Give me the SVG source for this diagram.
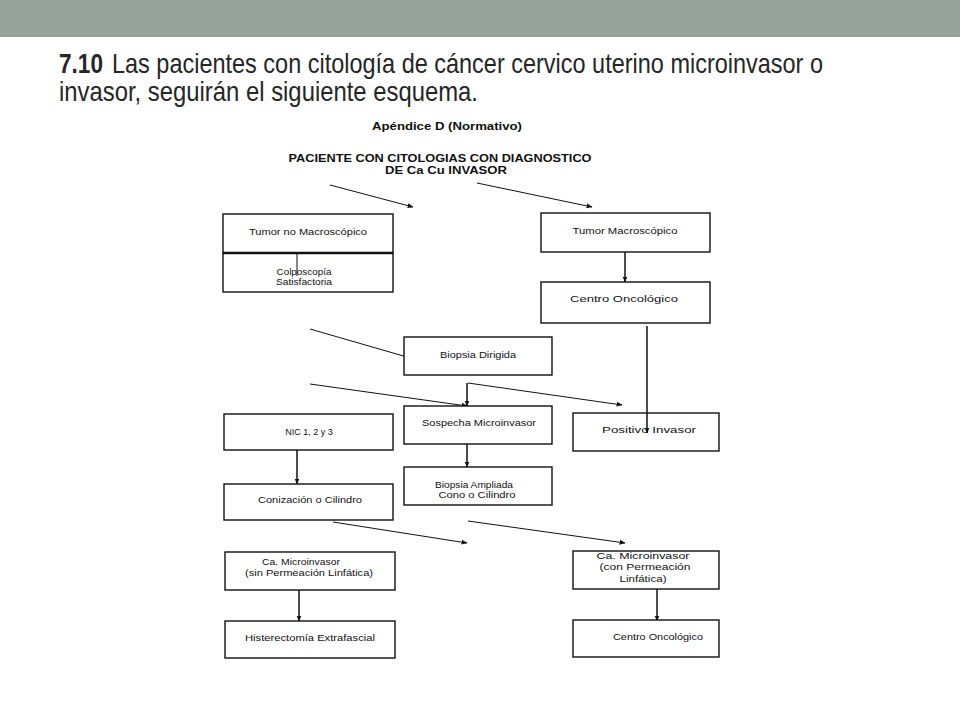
<svg xmlns="http://www.w3.org/2000/svg" width="960" height="720" viewBox="0 0 960 720">
<style>
.box{fill:#fff;stroke:#111;stroke-width:1.4}
.t{font-family:"Liberation Sans",Arial,sans-serif;font-size:9px;fill:#111;text-anchor:middle}
.h{font-family:"Liberation Sans",Arial,sans-serif;font-size:11px;font-weight:bold;fill:#111;text-anchor:middle}
.ti{font-family:"Liberation Sans",Arial,sans-serif;font-size:28px;fill:#262626}
.c{stroke:#111;stroke-width:1;fill:none}
.v{stroke:#111;stroke-width:1.5;fill:none}
</style>
<defs>
<marker id="ah" viewBox="0 0 10 10" refX="9" refY="5" markerWidth="6" markerHeight="6" markerUnits="userSpaceOnUse" orient="auto">
<path d="M0,1 L10,5 L0,9 z" fill="#111"/>
</marker>
</defs>
<rect width="960" height="720" fill="#fff"/>
<rect x="0" y="0" width="960" height="37" fill="#95A39A"/>
<g id="title">
<text class="ti" x="59" y="73" font-weight="bold" textLength="44" lengthAdjust="spacingAndGlyphs">7.10</text>
<text class="ti" x="112" y="73" textLength="711" lengthAdjust="spacingAndGlyphs">Las pacientes con citología de cáncer cervico uterino microinvasor o</text>
<text class="ti" x="59" y="101" textLength="419" lengthAdjust="spacingAndGlyphs">invasor, seguirán el siguiente esquema.</text>
</g>
<g id="heading">
<text class="h" x="447" y="130" textLength="150" lengthAdjust="spacingAndGlyphs">Apéndice D (Normativo)</text>
<text class="h" x="440" y="162" textLength="303" lengthAdjust="spacingAndGlyphs">PACIENTE CON CITOLOGIAS CON DIAGNOSTICO</text>
<text class="h" x="446" y="174" textLength="122" lengthAdjust="spacingAndGlyphs">DE Ca Cu INVASOR</text>
</g>
<g id="connectors">
<line class="c" x1="330" y1="185" x2="413" y2="207" marker-end="url(#ah)"/>
<line class="c" x1="477" y1="183" x2="592" y2="207" marker-end="url(#ah)"/>
<line class="v" x1="625" y1="252" x2="625" y2="282" marker-end="url(#ah)"/>
<line class="c" x1="310" y1="329" x2="445" y2="368" marker-end="url(#ah)"/>
<line class="c" x1="310" y1="384" x2="467" y2="406" marker-end="url(#ah)"/>
<line class="c" x1="468" y1="383" x2="622" y2="405" marker-end="url(#ah)"/>
<line class="v" x1="297" y1="450" x2="297" y2="484" marker-end="url(#ah)"/>
<line class="v" x1="467" y1="444" x2="467" y2="467" marker-end="url(#ah)"/>
<line class="c" x1="333" y1="522" x2="467" y2="543" marker-end="url(#ah)"/>
<line class="c" x1="468" y1="521" x2="625" y2="543" marker-end="url(#ah)"/>
<line class="v" x1="299" y1="590" x2="299" y2="621" marker-end="url(#ah)"/>
<line class="v" x1="657" y1="589" x2="657" y2="621" marker-end="url(#ah)"/>
</g>
<g id="tumor-no-macro">
<rect class="box" x="223" y="214" width="170" height="39"/>
<text class="t" x="308" y="235" textLength="118" lengthAdjust="spacingAndGlyphs">Tumor no Macroscópico</text>
</g>
<g id="colposcopia">
<rect class="box" x="223" y="253" width="170" height="39"/>
<line x1="223" y1="253" x2="393" y2="253" stroke="#111" stroke-width="2.4"/>
<text class="t" x="304" y="275" textLength="55" lengthAdjust="spacingAndGlyphs">Colposcopía</text>
<text class="t" x="304" y="285" textLength="56" lengthAdjust="spacingAndGlyphs">Satisfactoria</text>
</g>
<g id="tumor-macro">
<rect class="box" x="541" y="213" width="169" height="39"/>
<text class="t" x="625" y="234" textLength="105" lengthAdjust="spacingAndGlyphs">Tumor Macroscópico</text>
</g>
<g id="centro-oncologico-1">
<rect class="box" x="541" y="282" width="169" height="41"/>
<text class="t" x="624" y="302" textLength="108" lengthAdjust="spacingAndGlyphs">Centro Oncológico</text>
</g>
<g id="biopsia-dirigida">
<rect class="box" x="404" y="337" width="148" height="38"/>
<text class="t" x="478" y="358" textLength="76" lengthAdjust="spacingAndGlyphs">Biopsia Dirigida</text>
</g>
<g id="nic">
<rect class="box" x="224" y="414" width="169" height="36"/>
<text class="t" x="309" y="435">NIC 1, 2 y 3</text>
</g>
<g id="sospecha">
<rect class="box" x="404" y="406" width="148" height="38"/>
<text class="t" x="479" y="426" textLength="114" lengthAdjust="spacingAndGlyphs">Sospecha Microinvasor</text>
</g>
<g id="positivo">
<rect class="box" x="573" y="413" width="146" height="38"/>
<text class="t" x="649" y="433" textLength="94" lengthAdjust="spacingAndGlyphs">Positivo Invasor</text>
</g>
<g id="conizacion">
<rect class="box" x="224" y="484" width="169" height="36"/>
<text class="t" x="310" y="503" textLength="104" lengthAdjust="spacingAndGlyphs">Conización o Cilindro</text>
</g>
<g id="biopsia-ampliada">
<rect class="box" x="404" y="467" width="148" height="38"/>
<text class="t" x="474" y="488" textLength="78" lengthAdjust="spacingAndGlyphs">Biopsia Ampliada</text>
<text class="t" x="477" y="498" textLength="77" lengthAdjust="spacingAndGlyphs">Cono o Cilindro</text>
</g>
<g id="ca-sin">
<rect class="box" x="225" y="552" width="170" height="38"/>
<text class="t" x="301" y="565" textLength="78" lengthAdjust="spacingAndGlyphs">Ca. Microinvasor</text>
<text class="t" x="309" y="576" textLength="128" lengthAdjust="spacingAndGlyphs">(sin Permeación Linfática)</text>
</g>
<g id="histerectomia">
<rect class="box" x="225" y="621" width="170" height="37"/>
<text class="t" x="310" y="641" textLength="130" lengthAdjust="spacingAndGlyphs">Histerectomía Extrafascial</text>
</g>
<g id="ca-con">
<rect class="box" x="573" y="551" width="146" height="38"/>
<text class="t" x="643" y="559" textLength="93" lengthAdjust="spacingAndGlyphs">Ca. Microinvasor</text>
<text class="t" x="645" y="570" textLength="91" lengthAdjust="spacingAndGlyphs">(con Permeación</text>
<text class="t" x="643" y="582" textLength="47" lengthAdjust="spacingAndGlyphs">Linfática)</text>
</g>
<g id="centro-oncologico-2">
<rect class="box" x="573" y="620" width="146" height="37"/>
<text class="t" x="658" y="640" textLength="90" lengthAdjust="spacingAndGlyphs">Centro Oncológico</text>
</g>
<g id="connectors-over">
<line class="c" x1="297" y1="253" x2="297" y2="276"/>
<line class="v" x1="467" y1="383" x2="467" y2="406" marker-end="url(#ah)"/>
<line class="v" x1="647" y1="326" x2="647" y2="433" marker-end="url(#ah)"/>
</g>
</svg>
